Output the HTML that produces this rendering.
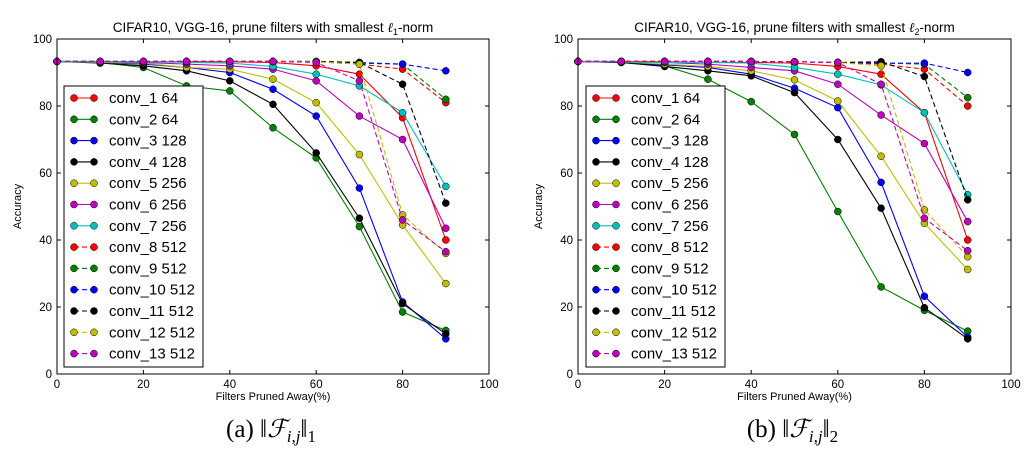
<!DOCTYPE html>
<html><head><meta charset="utf-8"><style>
body{margin:0;background:#fff;width:1034px;height:457px;overflow:hidden;font-family:"Liberation Sans",sans-serif}
</style></head><body>
<svg id="s" width="1034" height="457" xmlns="http://www.w3.org/2000/svg" font-family="Liberation Sans, sans-serif"></svg>
<script>
const xCats=[0,10,20,30,40,50,60,70,80,90];
const seriesNames=["conv_1 64","conv_2 64","conv_3 128","conv_4 128","conv_5 256","conv_6 256","conv_7 256","conv_8 512","conv_9 512","conv_10 512","conv_11 512","conv_12 512","conv_13 512"];
const seriesColors=["#ff0000","#008000","#0000ff","#000000","#bfbf00","#bf00bf","#00bfbf","#ff0000","#008000","#0000ff","#000000","#bfbf00","#bf00bf"];
const seriesDashed=[false,false,false,false,false,false,false,true,true,true,true,true,true];
const xTicks=[0,20,40,60,80,100];
const yTicks=[0,20,40,60,80,100];
const l1Values=[
[93.3,93.3,93.2,93.2,93.2,93,92,89.5,76.5,40],
[93.3,93,91.5,86,84.5,73.5,64.5,44,18.5,13],
[93.3,93,92.5,91.5,90,85,77,55.5,21.5,10.5],
[93.3,92.8,92,90.5,87.5,80.5,66,46.5,21,12],
[93.3,93,92.8,91.5,91,88,81,65.5,44.5,27],
[93.3,93.2,93,92.5,92,91,87.5,77,70,43.5],
[93.3,93.2,93.2,93,92.8,91.8,89.5,86,78,56],
[93.3,93.3,93.3,93.3,93.3,93.3,93.2,92.5,91,81],
[93.3,93.3,93.3,93.3,93.3,93.3,93.2,93,92.5,82],
[93.3,93.3,93.3,93.3,93.3,93.3,93.3,92.8,92.5,90.5],
[93.3,93.3,93.3,93.3,93.3,93.3,93.3,93,86.5,51],
[93.3,93.3,93.3,93.3,93.3,93.3,93.2,92.5,47.5,36],
[93.3,93.3,93.3,93.3,93.3,93.3,93,87.5,46,36.5]];
const l2Values=[
[93.3,93.3,93.2,93,93,92.8,91.8,89.5,78,40],
[93.3,93,92,88,81.3,71.5,48.5,26,19,12.8],
[93.3,93,92.3,91.5,89.5,85.3,79.5,57.2,23.2,11],
[93.3,93,91.8,90.5,89,84,70,49.5,19.8,10.5],
[93.3,93.2,92.5,91.8,90.5,87.8,81.5,65,45,31.2],
[93.3,93.2,93,92.5,91.5,90.5,86.5,77.3,68.8,45.5],
[93.3,93.2,93,93,92.8,91.5,89.5,86.3,78,53.5],
[93.3,93.3,93.3,93.3,93.3,93.2,93,92.5,91,80],
[93.3,93.3,93.3,93.3,93.3,93.2,93,92.8,92.5,82.5],
[93.3,93.3,93.3,93.3,93.3,93.2,93,92.8,92.8,90],
[93.3,93.3,93.3,93.3,93.3,93.2,93,93.2,88.8,52],
[93.3,93.3,93.3,93.3,93.3,93.2,93,92,49,35],
[93.3,93.3,93.3,93.3,93.3,93.2,93,86.5,46.5,36.8]];
const NS="http://www.w3.org/2000/svg";
const svg=document.getElementById('s');
function mk(tag,attrs,parent){const e=document.createElementNS(NS,tag);for(const k in attrs)e.setAttribute(k,attrs[k]);(parent||svg).appendChild(e);return e;}
function panel(L,R,T,B,vals,sub,caption,legL,id){
  const g=mk('g',{});
  
  
  const xs=v=>L+(v/100)*(R-L), ys=v=>B-(v/100)*(B-T);
  const t=mk('text',{x:(L+R)/2,y:32,'text-anchor':'middle','font-size':'13.5'},g);
  
  
  t.innerHTML='CIFAR10, VGG-16, prune filters with smallest <tspan font-style="italic" style="font-family:\'Liberation Serif\',serif">ℓ</tspan><tspan font-size="9" dy="3">'+sub+'</tspan><tspan dy="-3">-norm</tspan>';
  xTicks.forEach(v=>{mk('line',{x1:xs(v),x2:xs(v),y1:B,y2:B-4,stroke:'#000'},g);mk('line',{x1:xs(v),x2:xs(v),y1:T,y2:T+4,stroke:'#000'},g);
    const tx=mk('text',{x:xs(v),y:B+14,'text-anchor':'middle','font-size':'11.5'},g);tx.textContent=v;
    
    });
  yTicks.forEach(v=>{mk('line',{x1:L,x2:L+4,y1:ys(v),y2:ys(v),stroke:'#000'},g);mk('line',{x1:R,x2:R-4,y1:ys(v),y2:ys(v),stroke:'#000'},g);
    const ty=mk('text',{x:L-5,y:ys(v)+4,'text-anchor':'end','font-size':'11.5'},g);ty.textContent=v;
    
    });
  const xt=mk('text',{x:(L+R)/2,y:B+26,'text-anchor':'middle','font-size':'11'},g);xt.textContent='Filters Pruned Away(%)';
  
  
  const yt=mk('text',{x:0,y:0,'text-anchor':'middle','font-size':'11',transform:`translate(${L-36},${(T+B)/2}) rotate(-90)`},g);yt.textContent='Accuracy';
  
  
  vals.forEach((arr,i)=>{
    const pts=arr.map((v,j)=>xs(xCats[j])+','+ys(v)).join(' ');
    const pl=mk('polyline',{points:pts,fill:'none',stroke:seriesColors[i],'stroke-width':1.1,'stroke-dasharray':seriesDashed[i]?'5,3':'none'},g);
    
    
    arr.forEach((v,j)=>{const c=mk('circle',{cx:xs(xCats[j]),cy:ys(v),r:3.5,fill:seriesColors[i],stroke:'#000','stroke-width':0.5},g);
      
      });
  });
  mk('rect',{x:L,y:T,width:R-L,height:B-T,fill:'none',stroke:'#000','stroke-width':1},g);
  const lg=mk('g',{},g);
  
  
  mk('rect',{x:legL,y:86,width:139,height:281,fill:'#fff',stroke:'#000','stroke-width':1},lg);
  seriesNames.forEach((n,i)=>{const y=98+i*21.3;
    mk('line',{x1:legL+10,x2:legL+30,y1:y,y2:y,stroke:seriesColors[i],'stroke-width':1.1,'stroke-dasharray':seriesDashed[i]?'5,3':'none'},lg);
    mk('circle',{cx:legL+10,cy:y,r:3.5,fill:seriesColors[i],stroke:'#000','stroke-width':0.5},lg);
    mk('circle',{cx:legL+30,cy:y,r:3.5,fill:seriesColors[i],stroke:'#000','stroke-width':0.5},lg);
    const lt=mk('text',{x:legL+45,y:y+5,'font-size':'15'},lg);lt.textContent=n;
    
    });
  const cp=mk('text',{x:(L+R)/2-2,y:437,'text-anchor':'middle','font-size':'25',style:"font-family:'Liberation Serif',serif"},g);
  cp.innerHTML=caption;
  
  
}
panel(57,489,39,374,l1Values,'1','(a) ‖<tspan font-style="italic">ℱ</tspan><tspan font-style="italic" font-size="17" dy="5">i,j</tspan><tspan dy="-5">‖</tspan><tspan font-size="17" dy="5">1</tspan>',64,'l1');
panel(578,1011,39,374,l2Values,'2','(b) ‖<tspan font-style="italic">ℱ</tspan><tspan font-style="italic" font-size="17" dy="5">i,j</tspan><tspan dy="-5">‖</tspan><tspan font-size="17" dy="5">2</tspan>',586,'l2');
</script>
</body></html>
